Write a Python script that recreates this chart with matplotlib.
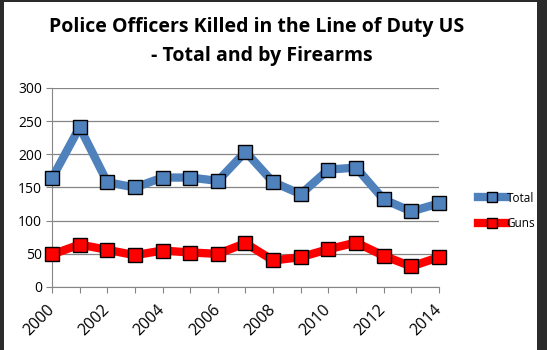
import matplotlib.pyplot as plt
from matplotlib.patches import Rectangle

anos = list(range(2000, 2015))
total = [164, 241, 158, 150, 165, 165, 160, 204, 158, 140, 177, 180, 132, 114, 126]
armas = [49, 64, 56, 48, 55, 52, 50, 66, 40, 45, 57, 67, 47, 31, 45]
rotulos_x = [str(a) if a % 2 == 0 else '' for a in anos]

plt.rcParams['font.family'] = ['Open Sans', 'DejaVu Sans']

fig = plt.figure(figsize=(5.47, 3.5), dpi=100, facecolor='white')
ax = fig.add_axes([52 / 547, 63 / 350, 387 / 547, 199 / 350])

# moldura escura em volta da imagem
for x, y, w, h in [(0, 0, 4 / 547, 1), (537 / 547, 0, 10 / 547, 1), (0, 348 / 350, 1, 2 / 350)]:
    fig.patches.append(Rectangle((x, y), w, h, transform=fig.transFigure,
                                 facecolor='#2b2b2b', edgecolor='none', zorder=0))

ax.plot(anos, total, color='#4F81BD', lw=6, marker='s', ms=10,
        mfc='#4F81BD', mec='black', mew=1, label='Total', clip_on=False, zorder=3)
ax.plot(anos, armas, color='#FF0000', lw=6, marker='s', ms=10,
        mfc='#FF0000', mec='black', mew=1, label='Guns', clip_on=False, zorder=3)

ax.set_xlim(2000, 2014)
ax.set_ylim(0, 300)
ax.set_yticks(range(0, 301, 50))
ax.set_xticks(anos)
ax.set_xticklabels(rotulos_x, rotation=45, ha='right', va='center',
                   rotation_mode='anchor', fontsize=11.5)
ax.tick_params(axis='x', length=4, color='#868686', pad=11)
ax.tick_params(axis='y', length=4, color='#868686', labelsize=10, pad=3)
ax.grid(axis='y', color='#868686', lw=0.9)
ax.set_axisbelow(True)
for lado in ['top', 'right']:
    ax.spines[lado].set_visible(False)
for lado in ['left', 'bottom']:
    ax.spines[lado].set_color('#868686')

fig.text(257 / 547, 1 - 27 / 350, 'Police Officers Killed in the Line of Duty US',
         ha='center', va='center', fontsize=14, fontweight='bold')
fig.text(262 / 547, 1 - 56 / 350, '- Total and by Firearms',
         ha='center', va='center', fontsize=14, fontweight='bold')

fig.legend(loc='center left', bbox_to_anchor=(467 / 547, 1 - 211 / 350),
           frameon=False, fontsize=8.5, handlelength=2.4, handletextpad=0.05,
           labelspacing=1.1, markerscale=0.7)

fig.savefig('out.png', dpi=100, facecolor='white')
